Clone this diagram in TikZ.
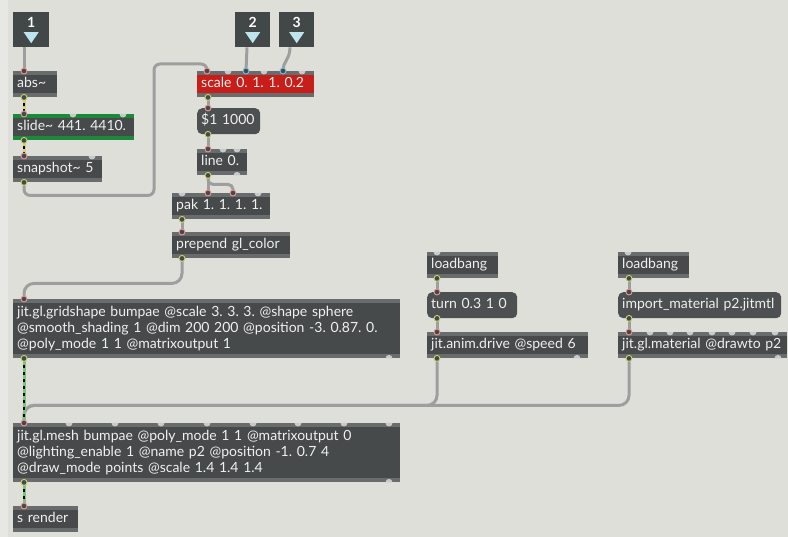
\documentclass[tikz,border=0pt]{standalone}
\usepackage{fontspec}
\setmainfont{Lato}
\usepackage{tikz}
\frenchspacing
\definecolor{patchbg}{RGB}{223,223,218}
\definecolor{patchedge}{RGB}{231,231,227}
\definecolor{boxgray}{RGB}{70,74,74}
\definecolor{stripgray}{RGB}{104,108,108}
\definecolor{msggray}{RGB}{76,80,80}
\definecolor{inletgray}{RGB}{66,71,71}
\definecolor{scalered}{RGB}{200,30,26}
\definecolor{slidegreen}{RGB}{28,136,58}
\definecolor{bumpgray}{RGB}{200,202,202}
\definecolor{cablegray}{RGB}{158,158,158}
\definecolor{sigyellow}{RGB}{214,210,110}
\definecolor{matgreen}{RGB}{120,196,120}
\definecolor{tricyan}{RGB}{190,228,236}
\definecolor{inpink}{RGB}{230,150,150}
\definecolor{incyan}{RGB}{120,190,220}
\definecolor{outyellow}{RGB}{200,210,110}
\tikzset{stripcol/.store in=\stripcol, stripcol=stripgray}
\tikzstyle{strips} = [path picture={\fill[\stripcol] (path picture bounding box.north west) rectangle ([yshift=-4pt]path picture bounding box.north east); \fill[\stripcol] (path picture bounding box.south west) rectangle ([yshift=4pt]path picture bounding box.south east);}]
\tikzstyle{box} = [anchor=north west, text=white!94!black, inner xsep=4pt, inner ysep=0pt, align=left, font=\fontsize{14}{16}\selectfont]
\tikzstyle{obj} = [box, strips, fill=boxgray, minimum height=26pt, text height=9.5pt, text depth=3pt]
\tikzstyle{objbig} = [box, strips, fill=boxgray, minimum height=59pt]
\tikzstyle{msg} = [box, fill=msggray, rounded corners=5pt, minimum height=26pt, text height=9.5pt, text depth=3pt]
\tikzstyle{inletbox} = [anchor=north west, fill=inletgray, minimum width=35pt, minimum height=35pt, inner sep=0pt, path picture={\fill[tricyan] ([xshift=-7.5pt,yshift=-2.5pt]path picture bounding box.center) -- ([xshift=7.5pt,yshift=-2.5pt]path picture bounding box.center) -- ([yshift=-13.5pt]path picture bounding box.center) -- cycle;}]
\tikzstyle{num} = [text=white, font=\bfseries\fontsize{14}{14}\selectfont, yshift=7pt]
\tikzstyle{cable} = [line width=3pt, draw=cablegray, rounded corners=8pt]
\tikzstyle{sig} = [line width=3pt, draw=sigyellow, postaction={draw=black, line width=1.2pt, dash pattern=on 3pt off 3pt}]
\tikzstyle{mat} = [line width=3pt, draw=matgreen, postaction={draw=black, line width=1.2pt, dash pattern=on 3pt off 4pt}]
\tikzstyle{bump} = [fill=bumpgray]
\tikzstyle{inring} = [draw=inpink, fill=boxgray, line width=0.9pt]
\tikzstyle{cyanring} = [draw=incyan, fill=boxgray, line width=0.9pt]
\tikzstyle{outring} = [draw=outyellow, fill=boxgray, line width=0.9pt]

\begin{document}
\begin{tikzpicture}[x=1pt, y=-1pt]
    \useasboundingbox (0,0) rectangle (788,537);
    \fill[patchbg] (0,0) rectangle (788,537);
    \fill[patchedge] (0,0) rectangle (8,537);

    % inlets
    \node (in1) [inletbox, minimum width=36pt, label={[num]center:1}] at (13,12) {};
    \node (in2) [inletbox, label={[num]center:2}] at (235,12) {};
    \node (in3) [inletbox, label={[num]center:3}] at (279,12) {};

    % objects
    \node (abs) [obj, text width=36pt] at (13,71) {abs\textasciitilde};
    \node (slide) [obj, text width=113pt, stripcol=slidegreen] at (13,114) {slide\textasciitilde{} 441. 4410.};
    \node (snap) [obj, text width=81pt] at (13,156) {snapshot\textasciitilde{} 5};
    \node (scale) [obj, text width=109pt, fill=scalered] at (197,71) {scale 0. 1. 1. 0.2};
    \node (dollar) [msg, text width=55pt] at (197,108) {\$1 1000};
    \node (line) [obj, text width=42pt] at (197,149) {line 0.};
    \node (pak) [obj, text width=90pt] at (172,193) {pak 1. 1. 1. 1.};
    \node (prepend) [obj, text width=110pt] at (172,232) {prepend gl\_color};
    \node (grid) [objbig, text width=379pt] at (13,299) {jit.gl.gridshape bumpae @scale 3. 3. 3. @shape sphere\\@smooth\_shading 1 @dim 200 200 @position -3. 0.87. 0.\\@poly\_mode 1 1 @matrixoutput 1};
    \node (mesh) [objbig, text width=379pt] at (13,423) {jit.gl.mesh bumpae @poly\_mode 1 1 @matrixoutput 0\\@lighting\_enable 1 @name p2 @position -1. 0.7 4\\@draw\_mode points @scale 1.4 1.4 1.4};
    \node (render) [obj, text width=57pt] at (13,506) {s render};
    \node (lb1) [obj, text width=63pt] at (427,252) {loadbang};
    \node (turn) [msg, text width=82pt] at (427,292) {turn 0.3 1 0};
    \node (drive) [obj, text width=153pt] at (427,332) {jit.anim.drive @speed 6};
    \node (lb2) [obj, text width=63pt] at (618,252) {loadbang};
    \node (import) [msg, text width=155pt] at (618,292) {import\_material p2.jitmtl};
    \node (material) [obj, text width=161pt] at (618,332) {jit.gl.material @drawto p2};

    % patch cords
    \draw[cable] ([xshift=11pt]in1.south west) -- ([xshift=11pt]abs.north west);
    \draw[sig] ([xshift=11pt]abs.south west) -- ([xshift=11pt]slide.north west);
    \draw[sig] ([xshift=11pt]slide.south west) -- ([xshift=11pt]snap.north west);
    \draw[cable, rounded corners=6pt] ([xshift=11pt]snap.south west) -- ++(0,13) -- ++(130,0) |- ([xshift=10pt,yshift=7pt]scale.north west) -- ([xshift=10pt]scale.north west);
    \draw[cable] ([xshift=12pt]in2.south west) -- ([xshift=49pt]scale.north west);
    \draw[cable] ([xshift=11pt]in3.south west) .. controls +(0,12) and +(0,-10) .. ([xshift=86pt]scale.north west);
    \draw[cable] ([xshift=11pt]scale.south west) -- ([xshift=11pt]dollar.north west);
    \draw[cable] ([xshift=11pt]dollar.south west) -- ([xshift=11pt]line.north west);
    \draw[cable] ([xshift=11pt]line.south west) -- ([xshift=36pt]pak.north west);
    \draw[cable, rounded corners=5pt] ([xshift=11pt]line.south west) -- ++(0,9) -| ([xshift=61pt]pak.north west);
    \draw[cable] ([xshift=10pt]pak.south west) -- ([xshift=10pt]prepend.north west);
    \draw[cable, rounded corners=10pt] ([xshift=10pt]prepend.south west) -- ++(0,25) -| ([xshift=11pt]grid.north west);
    \draw[cable] ([xshift=10pt]lb1.south west) -- ([xshift=10pt]turn.north west);
    \draw[cable] ([xshift=10pt]turn.south west) -- ([xshift=10pt]drive.north west);
    \draw[cable] ([xshift=11pt]lb2.south west) -- ([xshift=11pt]import.north west);
    \draw[cable] ([xshift=11pt]import.south west) -- ([xshift=11pt]material.north west);
    \draw[cable, rounded corners=10pt] ([xshift=10pt]drive.south west) -- ++(0,47) -| ([xshift=11pt]mesh.north west);
    \draw[cable, rounded corners=10pt] ([xshift=11pt]material.south west) -- ++(0,47) -| ([xshift=11pt]mesh.north west);
    \draw[mat] ([xshift=11pt]grid.south west) -- ([xshift=11pt]mesh.north west);
    \draw[mat] ([xshift=11pt]mesh.south west) -- ([xshift=11pt]render.north west);

    % free inlets and outlets
    \foreach \n/\dx in {slide/60, slide/110, snap/79, scale/31, scale/67, scale/105, line/26, line/40, pak/10, pak/86, lb1/10, lb2/10,
        mesh/56, mesh/102, mesh/148, mesh/194, mesh/240, mesh/285, mesh/331, mesh/376,
        material/32, material/52, material/72, material/94, material/114, material/135, material/157}
        \fill[bump] ([xshift=\dx*1pt-3.5pt]\n.north west) arc[start angle=180, end angle=360, radius=3.5pt];
    \foreach \n/\dx in {line/40, grid/376, mesh/376, drive/150, material/160}
        \fill[bump] ([xshift=\dx*1pt-3.5pt]\n.south west) arc[start angle=180, end angle=0, radius=3.5pt];

    % used inlets and outlets
    \foreach \n/\dx in {abs/11, slide/11, snap/11, scale/10, dollar/11, line/11, pak/36, pak/61, prepend/10,
        grid/11, mesh/11, render/11, turn/10, drive/10, import/11, material/11}
        \draw[inring] ([xshift=\dx*1pt]\n.north west) circle (3pt);
    \foreach \n/\dx in {scale/49, scale/86}
        \draw[cyanring] ([xshift=\dx*1pt]\n.north west) circle (3pt);
    \foreach \n/\dx in {abs/11, slide/11, snap/11, scale/11, dollar/11, line/11, pak/10, prepend/10,
        grid/11, mesh/11, lb1/10, turn/10, drive/10, lb2/11, import/11, material/11}
        \draw[outring] ([xshift=\dx*1pt]\n.south west) circle (3pt);
\end{tikzpicture}
\end{document}
